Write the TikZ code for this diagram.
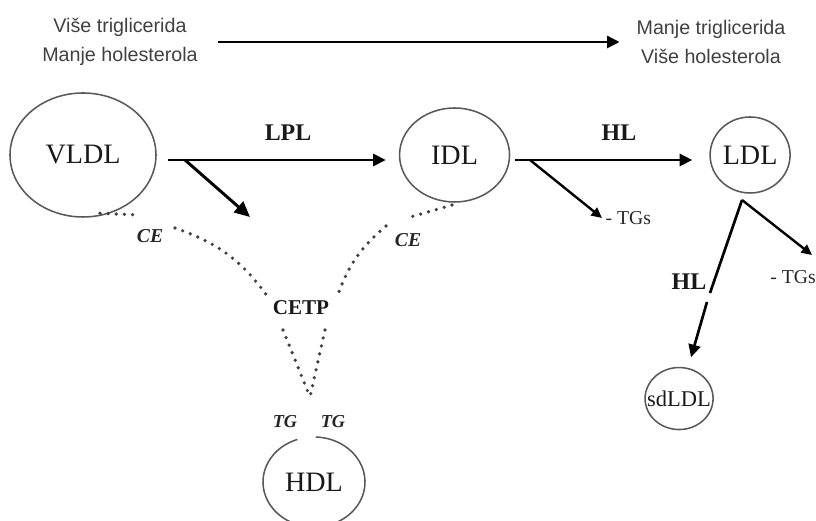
\documentclass[tikz,border=0pt]{standalone}
\usepackage{fontspec}
\setmainfont{Liberation Serif}
\newfontfamily\trendfont{Liberation Sans}
\usepackage{tikz}
\usetikzlibrary{shapes.geometric,arrows.meta,positioning,calc}

\begin{document}
\begin{tikzpicture}[
    %---- GLOBAL STYLES ----
    >={Triangle[length=9pt,width=8.5pt]},
    lipo/.style = {ellipse, draw=black!65, line width=1.1pt, inner sep=0pt,
                   text=black!90, font=\fontsize{20}{24}\selectfont},
    enzyme/.style = {font=\bfseries\fontsize{17}{20}\selectfont, text=black!90},
    cargo/.style = {font=\bfseries\itshape\fontsize{14}{16}\selectfont, text=black!85},
    tgs/.style = {font=\fontsize{14}{16}\selectfont, inner sep=1pt, text=black!85},
    trend/.style = {align=center, font=\trendfont\fontsize{14}{21}\selectfont, text=black!75},
    arrow/.style = {->, line width=2.1pt},
    thinarrow/.style = {->, line width=1.7pt, >={Triangle[length=7.5pt,width=7pt]}},
    transfer/.style = {draw=black!75, line width=2.6pt, line cap=round, dash pattern=on 0pt off 5.8pt},
]
\useasboundingbox (0,0) rectangle (20.4,13.025);

%---- TREND ----
\node (more) [trend] at (3.0,11.975)   {Više triglicerida\\Manje holesterola};
\node (less) [trend] at (17.775,11.975) {Manje triglicerida\\Više holesterola};

%---- LIPOPROTEINS ----
\node (vldl)  [lipo, minimum width=3.65cm, minimum height=3.1cm] at (2.075,9.15) {VLDL};
\node (idl)   [lipo, minimum width=2.75cm, minimum height=2.35cm, right=6.05cm of vldl] {IDL};
\node (ldl)   [lipo, minimum width=2.0cm,  minimum height=1.9cm,  right=4.975cm of idl] {LDL};
\node (sdldl) [lipo, minimum width=1.7cm,  minimum height=1.55cm, font=\fontsize{16}{19}\selectfont,
               below=4.325cm of ldl, xshift=-1.775cm] {\makebox[0pt]{sdLDL}};
\node (hdl)   [lipo, draw=none, minimum width=2.55cm, minimum height=2.25cm] at (7.85,0.975) {HDL};

%---- ENZYMES / CARGO ----
\node (lpl)  [enzyme] at (7.2,9.7)     {LPL};
\node (hl)   [enzyme] at (15.475,9.7)  {HL};
\node (hlsd) [enzyme] at (17.225,5.975) {HL};
\node (cetp) [enzyme, font=\bfseries\fontsize{15}{18}\selectfont] at (7.525,5.325) {CETP};
\node (cev)  [cargo] at (3.75,7.125)  {CE};
\node (cei)  [cargo] at (10.2,7.025)  {CE};
\node (tgl)  [cargo, font=\bfseries\itshape\fontsize{13}{15}\selectfont] at (7.125,2.475) {TG};
\node (tgr)  [cargo, font=\bfseries\itshape\fontsize{13}{15}\selectfont] at (8.325,2.475) {TG};

%---- HELPER POINTS ----
\coordinate (vsplit) at (4.625,9.025);
\coordinate (vtip)   at (6.25,7.6);
\coordinate (isplit) at (13.25,9.025);
\coordinate (itip)   at (15.05,7.575);
\coordinate (lsplit) at (18.55,8.025);
\coordinate (ltip)   at (20.3,6.65);
\coordinate (hlcut)  at (17.75,5.7);
\coordinate (hlgo)   at (17.675,5.475);

\node (itgs) [tgs, right=0.05cm of itip] {- TGs};
\node (ltgs) [tgs, anchor=west] at (19.22,6.1) {- TGs};

%---- ARROWS ----
\draw[arrow, line width=2pt, shorten <=0.375cm, shorten >=0.3cm] (more) -- (less);
\draw[arrow, shorten <=0.275cm, shorten >=0.325cm] ([yshift=-0.125cm]vldl.east) -- ([yshift=-0.125cm]idl.west);
\draw[arrow, shorten <=0.125cm, shorten >=0.425cm] ([yshift=-0.125cm]idl.east) -- ([yshift=-0.125cm]ldl.west);
\draw[arrow, >={Triangle[length=11pt,width=10pt]}] (vsplit) -- (vtip);
\draw[thinarrow] (isplit) -- (itip);
\draw[thinarrow] (lsplit) -- (ltip);
\draw[line width=1.9pt] (lsplit) -- (hlcut);
\draw[arrow, line width=1.9pt, shorten >=0.275cm] (hlgo) -- (sdldl);

%---- CE / TG TRANSFER (dotted) ----
\coordinate (vce1) at (2.5,7.695);
\coordinate (vce2) at (3.45,7.65);
\coordinate (vce3) at (4.375,7.325);
\coordinate (cetpw) at (6.75,5.525);
\coordinate (ice1) at (11.3,7.9);
\coordinate (ice2) at (10.175,7.575);
\coordinate (ice3) at (9.65,7.375);
\coordinate (cetpe) at (8.425,5.6);
\coordinate (tgl1) at (7.075,4.775);
\coordinate (tgr1) at (8.125,4.775);
\coordinate (tgmeet) at (7.75,3.1);

\draw[transfer] (vce1) -- (vce2);
\draw[transfer] (vce3) to[bend left=18] (cetpw);
\draw[transfer] (ice1) -- (ice2);
\draw[transfer] (ice3) to[bend right=15] (cetpe);
\draw[transfer] (tgl1) -- (tgmeet);
\draw[transfer] (tgr1) -- (tgmeet);

%---- HDL outline, open at the top ----
\draw[draw=black!65, line width=1.1pt] ($(hdl.center)+(109:1.275cm and 1.125cm)$)
    arc[start angle=109, end angle=448, x radius=1.275cm, y radius=1.125cm];
\end{tikzpicture}
\end{document}
